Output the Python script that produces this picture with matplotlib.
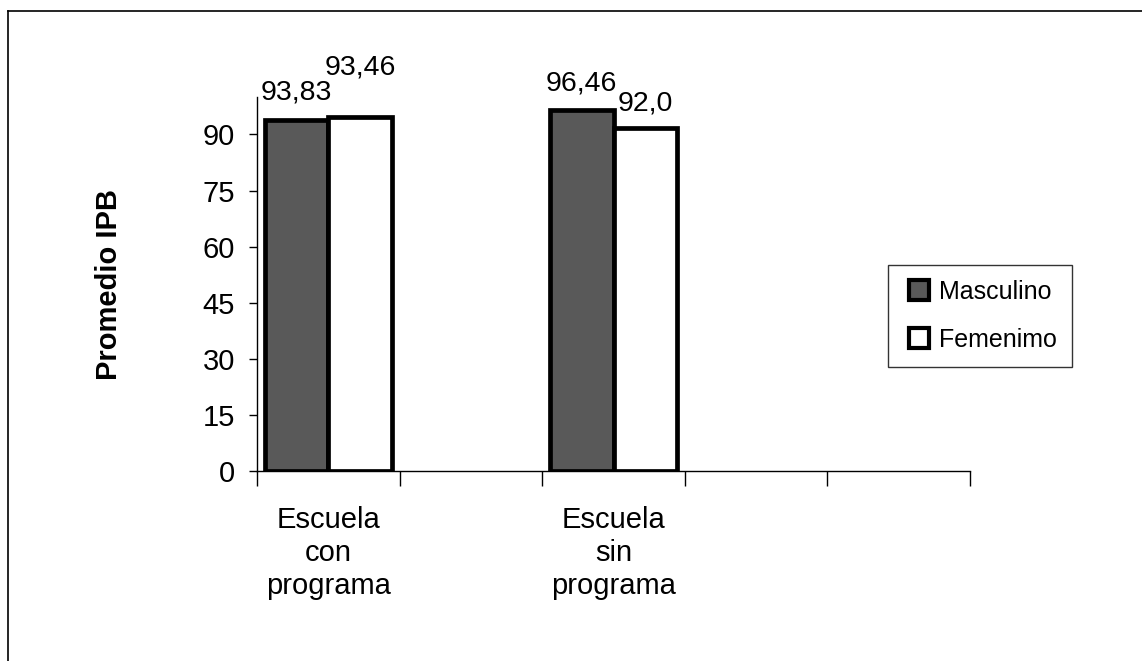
import matplotlib
matplotlib.use("Agg")
import matplotlib.pyplot as plt
from matplotlib.lines import Line2D
import numpy as np

plt.rcParams['font.family'] = ['Liberation Sans', 'DejaVu Sans']

# Data
categories = ["Escuela\ncon\nprograma", "", "Escuela\nsin\nprograma", "", ""]
series_names = ["Masculino", "Femenimo"]
masculino = [93.9, np.nan, 96.5, np.nan, np.nan]
femenimo = [94.7, np.nan, 91.7, np.nan, np.nan]
masc_labels = ["93,83", "", "96,46", "", ""]
fem_labels = ["93,46", "", "92,0", "", ""]
y_ticks = [0, 15, 30, 45, 60, 75, 90]

W, H = 1142, 661
fig = plt.figure(figsize=(W / 100, H / 100), dpi=100)
ax = fig.add_axes([257 / W, 1 - 471 / H, (970 - 257) / W, (471 - 97) / H])

x = np.arange(len(categories))
bw = 0.445
masc_color = "#595959"
fem_color = "#ffffff"

ax.bar(x - bw / 2, masculino, bw, color=masc_color, edgecolor="black", linewidth=3.4)
ax.bar(x + bw / 2, femenimo, bw, color=fem_color, edgecolor="black", linewidth=3.4)

# value labels (the second one sits higher in the original)
masc_off = [10, 0, 10, 0, 0]
fem_off = [26, 0, 8, 0, 0]
for i in range(len(categories)):
    if masc_labels[i]:
        ax.annotate(masc_labels[i], (x[i] - bw / 2, masculino[i]), xytext=(0, masc_off[i]),
                    textcoords="offset points", ha="center", va="bottom", fontsize=20.5)
    if fem_labels[i]:
        ax.annotate(fem_labels[i], (x[i] + bw / 2, femenimo[i]), xytext=(0, fem_off[i]),
                    textcoords="offset points", ha="center", va="bottom", fontsize=20.5)

ax.set_xlim(-0.5, len(categories) - 0.5)
ax.set_ylim(0, 100)
ax.set_yticks(y_ticks)
ax.tick_params(axis="y", labelsize=21, length=6, width=1, pad=10)

# category boundaries as ticks, names between them
ax.set_xticks(np.arange(len(categories) + 1) - 0.5)
ax.set_xticklabels([])
ax.set_xticks(x, minor=True)
ax.set_xticklabels(categories, minor=True, fontsize=21, linespacing=1.24)
ax.tick_params(axis="x", which="major", length=11, width=1)
ax.tick_params(axis="x", which="minor", length=0, pad=25)

for s in ["top", "right"]:
    ax.spines[s].set_visible(False)
for s in ["left", "bottom"]:
    ax.spines[s].set_linewidth(1)

ax.set_ylabel("Promedio IPB", fontsize=21, fontweight="bold")
ax.yaxis.set_label_coords((123 - 257) / 713, 0.5)

handles = [Line2D([], [], linestyle="none", marker="s", markersize=14, markerfacecolor=masc_color,
                  markeredgecolor="black", markeredgewidth=3),
           Line2D([], [], linestyle="none", marker="s", markersize=14, markerfacecolor=fem_color,
                  markeredgecolor="black", markeredgewidth=3)]
leg = ax.legend(handles, series_names, loc="center left", bbox_to_anchor=(888 / W, 1 - 316 / H),
                bbox_transform=fig.transFigure, fontsize=18, frameon=True, fancybox=False,
                handlelength=1.3, handletextpad=0.15, labelspacing=0.95,
                borderpad=0.6, borderaxespad=0)
leg.get_frame().set_edgecolor("black")
leg.get_frame().set_linewidth(1)

# chart area border (top and left visible)
fig.add_artist(Line2D([8 / W, 1], [1 - 11 / H, 1 - 11 / H], transform=fig.transFigure, color="black", lw=1.2))
fig.add_artist(Line2D([8 / W, 8 / W], [0, 1 - 11 / H], transform=fig.transFigure, color="black", lw=1.2))

fig.savefig("out.png", dpi=100)
